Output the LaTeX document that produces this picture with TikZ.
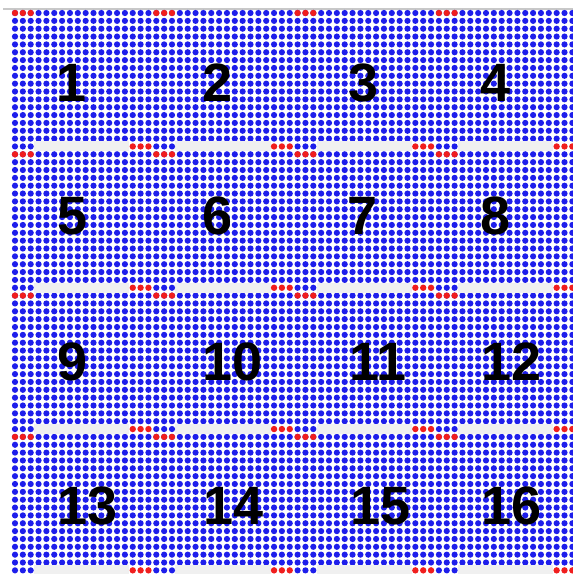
\documentclass[tikz,border=0pt]{standalone}
\usepackage{fontspec}
\setmainfont{Liberation Sans}
\usepackage{xcolor}
\definecolor{dotblue}{RGB}{30,30,235}
\definecolor{dotred}{RGB}{240,30,30}
\definecolor{gapgray}{RGB}{240,240,240}
\definecolor{rulegray}{RGB}{200,200,200}
\newcommand{\pitch}{7.85}

\begin{document}
\begin{tikzpicture}[
  x=1pt, y=-1pt,
  bluedot/.style={fill=dotblue},
  reddot/.style={fill=dotred},
  gapband/.style={fill=gapgray},
  numlbl/.style={font=\fontsize{54}{54}\selectfont\bfseries, text=black, inner sep=0pt},
]
\useasboundingbox (0,0) rectangle (573,574);
\fill[white] (0,0) rectangle (573,574);

% --- top rule ---
\draw[rulegray, line width=1.2pt] (3,9) -- (573,9);

% --- blue dots, full rows of each block ---
\foreach \br in {0,...,3}
  \foreach \r in {0,...,16}
    \foreach \c in {0,...,71}
      \fill[bluedot] ({15+\pitch*\c},{13+\pitch*(18*\br+\r)}) circle[radius=3.1pt];

% --- last row of each block: gap, blue and red ends ---
\foreach \br in {0,...,3}
  \foreach \bc in {0,...,3} {
    \fill[gapband] ({15+\pitch*(18*\bc+3)-4.5},{13+\pitch*(18*\br+17)-5})
      rectangle ++({\pitch*11+9},10);
    \foreach \j in {0,1,2} {
      \fill[bluedot] ({15+\pitch*(18*\bc+\j)},{13+\pitch*(18*\br+17)}) circle[radius=3.1pt];
      \fill[reddot] ({15+\pitch*(18*\bc+15+\j)},{13+\pitch*(18*\br+17)}) circle[radius=3.2pt];
      \fill[reddot] ({15+\pitch*(18*\bc+\j)},{13+\pitch*(18*\br)}) circle[radius=3.2pt];
    }
  }

% --- block numbers ---
\foreach \k/\x/\y in {1/72/83, 2/218/83, 3/364/83, 4/496/83,
                      5/73/216, 6/218/216, 7/363/216, 8/496/216,
                      9/73/362, 10/233/362, 11/378/362, 12/512/362,
                      13/88/506, 14/234/506, 15/381/506, 16/512/506}
  \node[numlbl] (n\k) at (\x,\y) {\k};

\end{tikzpicture}
\end{document}
